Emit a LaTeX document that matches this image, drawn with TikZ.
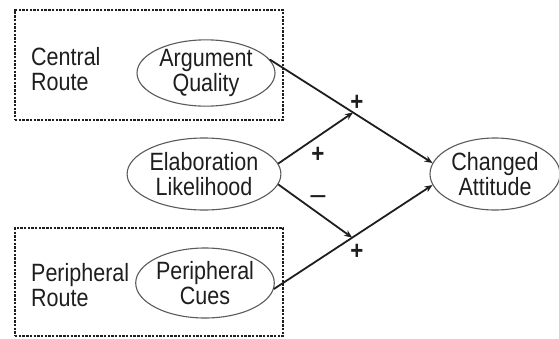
\documentclass[tikz,border=0pt]{standalone}
\usepackage{fontspec}
\setmainfont[FakeStretch=0.86]{Liberation Sans}
\usetikzlibrary{shapes.geometric,arrows.meta,calc}
\definecolor{ink}{HTML}{1E1E1E}
\definecolor{rim}{HTML}{5A5A5A}
\begin{document}
\begin{tikzpicture}[x=1pt,y=-1pt,
  every node/.style={font=\fontsize{25}{24.5}\selectfont, text=ink},
  routebox/.style={draw=ink, line width=1.7pt, dash pattern=on 2.4pt off 1.3pt, minimum width=268pt, inner sep=0pt},
  oval/.style={ellipse, draw=rim, line width=1.1pt, inner sep=0pt, align=center},
  lbl/.style={align=left, inner sep=0pt, anchor=west},
  arr/.style={draw=ink, line width=1.8pt, -{Stealth[length=8pt,width=6.5pt]}},
  sign/.style={inner sep=0pt, font=\bfseries\fontsize{26}{26}\selectfont},
  minussign/.style={inner sep=0pt, font=\fontsize{31}{31}\selectfont}]
\useasboundingbox (0,0) rectangle (559,338);
% route boxes
\node[routebox, minimum height=110pt] (cbox) at (149,65) {};
\node[routebox, minimum height=108pt] (pbox) at (149,282) {};
% labels
\node[lbl] (ctext) at (31,69) {Central\\Route};
\node[lbl] (ptext) at (31,285) {Peripheral\\Route};
% constructs
\node[oval, minimum width=138pt, minimum height=54pt] (aq) at (206,73) {Argument\\Quality};
\node[oval, minimum width=132pt, minimum height=72pt] (el) at (204,174) {Elaboration\\Likelihood};
\node[oval, minimum width=136pt, minimum height=70pt] (pc) at (205,283) {Peripheral\\Cues};
\node[oval, minimum width=130pt, minimum height=72pt] (ca) at (495,174) {Changed\\Attitude};
% junctions
\coordinate (j1) at ($(aq.12)!0.512!(ca.170)$);
\coordinate (j2) at ($(pc.-5)!0.494!(ca.190)$);
% connectors
\draw[arr] (aq.12) -- (ca.170);
\draw[arr] (pc.-5) -- (ca.190);
\draw[arr] (el.8) -- (j1);
\draw[arr] (el.-8) -- (j2);
% signs
\node[sign] (s1) at (357,103) {+};
\node[sign] (s2) at (318,155) {+};
\node[minussign] (s3) at (318,200) {–};
\node[sign] (s4) at (357,252) {+};
\end{tikzpicture}
\end{document}
